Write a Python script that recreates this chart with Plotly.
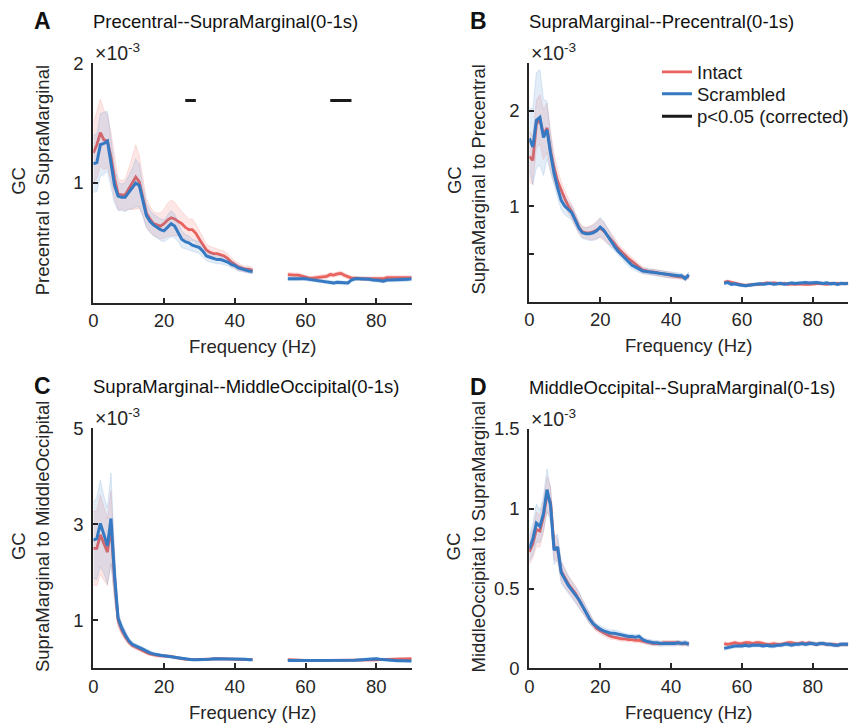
import plotly.graph_objects as go

# ---------------- data (GC values in units of 1e-3) ----------------
freq_low = list(range(0, 46))     # 0..45 Hz
freq_high = list(range(55, 91))   # 55..90 Hz (line-noise band removed)

x_ticks = [0, 20, 40, 60, 80]

# Panel A : Precentral -> SupraMarginal
A_intact_low = [1.25, 1.32, 1.42, 1.36, 1.35, 1.22, 1.04, 0.91, 0.90, 0.90,
                0.95, 1.00, 1.05, 1.01, 0.88, 0.75, 0.70, 0.66, 0.65, 0.64,
                0.66, 0.69, 0.71, 0.70, 0.68, 0.66, 0.63, 0.61, 0.61, 0.58,
                0.53, 0.48, 0.44, 0.42, 0.41, 0.41, 0.40, 0.39, 0.37, 0.34,
                0.32, 0.30, 0.29, 0.28, 0.28, 0.27]
A_scr_low = [1.16, 1.17, 1.32, 1.33, 1.35, 1.17, 0.98, 0.89, 0.88, 0.88,
             0.92, 0.95, 1.00, 0.98, 0.85, 0.73, 0.68, 0.65, 0.63, 0.61,
             0.60, 0.63, 0.66, 0.64, 0.59, 0.53, 0.51, 0.50, 0.48, 0.47,
             0.46, 0.43, 0.39, 0.38, 0.37, 0.36, 0.36, 0.35, 0.34, 0.32,
             0.31, 0.29, 0.28, 0.27, 0.265, 0.26]
A_intact_sem_low = [0.25, 0.28, 0.28, 0.25, 0.22, 0.20, 0.17, 0.13, 0.12, 0.13,
                    0.17, 0.22, 0.27, 0.22, 0.15, 0.12, 0.11, 0.10, 0.10, 0.11,
                    0.12, 0.14, 0.15, 0.14, 0.12, 0.10, 0.10, 0.09, 0.09, 0.08,
                    0.07, 0.06, 0.05, 0.05, 0.05, 0.04, 0.04, 0.04, 0.04, 0.035,
                    0.03, 0.03, 0.025, 0.025, 0.025, 0.025]
A_scr_sem_low = [0.24, 0.24, 0.26, 0.26, 0.25, 0.20, 0.15, 0.12, 0.11, 0.12,
                 0.14, 0.17, 0.20, 0.18, 0.13, 0.10, 0.09, 0.09, 0.09, 0.09,
                 0.09, 0.10, 0.11, 0.10, 0.08, 0.07, 0.06, 0.06, 0.05, 0.05,
                 0.05, 0.05, 0.04, 0.04, 0.04, 0.035, 0.035, 0.03, 0.03, 0.03,
                 0.025, 0.025, 0.02, 0.02, 0.02, 0.02]
A_intact_high = [0.235, 0.23, 0.23, 0.23, 0.22, 0.21, 0.205, 0.205, 0.21, 0.21,
                 0.22, 0.22, 0.235, 0.23, 0.24, 0.245, 0.23, 0.215, 0.205, 0.205,
                 0.20, 0.20, 0.20, 0.20, 0.20, 0.20, 0.205, 0.20, 0.21, 0.21,
                 0.21, 0.21, 0.215, 0.215, 0.21, 0.21]
A_scr_high = [0.20, 0.20, 0.20, 0.20, 0.205, 0.20, 0.195, 0.19, 0.185, 0.18,
              0.175, 0.17, 0.17, 0.165, 0.17, 0.17, 0.165, 0.165, 0.19, 0.20,
              0.20, 0.20, 0.20, 0.195, 0.19, 0.19, 0.185, 0.18, 0.19, 0.19,
              0.19, 0.19, 0.19, 0.19, 0.195, 0.20]
A_intact_sem_high = [0.02, 0.02, 0.018, 0.018, 0.017, 0.016, 0.016, 0.016, 0.017, 0.017,
                     0.018, 0.018, 0.018, 0.018, 0.019, 0.019, 0.018, 0.017, 0.016, 0.016,
                     0.016, 0.016, 0.016, 0.016, 0.016, 0.016, 0.016, 0.016, 0.016, 0.016,
                     0.016, 0.016, 0.016, 0.016, 0.016, 0.016]
A_scr_sem_high = [0.016, 0.016, 0.016, 0.016, 0.016, 0.016, 0.015, 0.015, 0.015, 0.015,
                  0.015, 0.015, 0.015, 0.015, 0.015, 0.015, 0.015, 0.015, 0.015, 0.015,
                  0.015, 0.015, 0.015, 0.015, 0.015, 0.015, 0.015, 0.015, 0.015, 0.015,
                  0.015, 0.015, 0.015, 0.015, 0.015, 0.016]
A_sig_start = [26, 67]
A_sig_end = [29, 73]
A_sig_level = 1.69

# Panel B : SupraMarginal -> Precentral
B_intact_low = [1.52, 1.48, 1.86, 1.91, 1.75, 1.82, 1.58, 1.40, 1.26, 1.16,
                1.08, 1.00, 0.94, 0.86, 0.78, 0.73, 0.72, 0.72, 0.73, 0.75,
                0.77, 0.74, 0.70, 0.65, 0.61, 0.56, 0.52, 0.48, 0.45, 0.42,
                0.39, 0.36, 0.33, 0.32, 0.31, 0.31, 0.30, 0.295, 0.29, 0.28,
                0.27, 0.265, 0.26, 0.255, 0.25, 0.26]
B_scr_low = [1.71, 1.62, 1.90, 1.93, 1.72, 1.80, 1.55, 1.34, 1.19, 1.06,
             1.00, 0.96, 0.93, 0.85, 0.77, 0.72, 0.71, 0.71, 0.72, 0.74,
             0.78, 0.75, 0.69, 0.63, 0.58, 0.53, 0.49, 0.45, 0.41, 0.38,
             0.36, 0.34, 0.32, 0.315, 0.31, 0.30, 0.30, 0.29, 0.285, 0.28,
             0.275, 0.275, 0.27, 0.27, 0.24, 0.28]
B_intact_sem_low = [0.27, 0.25, 0.25, 0.26, 0.26, 0.26, 0.20, 0.15, 0.12, 0.10,
                    0.09, 0.08, 0.08, 0.07, 0.06, 0.06, 0.06, 0.07, 0.08, 0.09,
                    0.10, 0.09, 0.08, 0.07, 0.06, 0.05, 0.05, 0.04, 0.04, 0.04,
                    0.04, 0.035, 0.035, 0.03, 0.03, 0.03, 0.03, 0.03, 0.03, 0.03,
                    0.03, 0.025, 0.025, 0.025, 0.025, 0.025]
B_scr_sem_low = [0.32, 0.40, 0.50, 0.50, 0.40, 0.30, 0.20, 0.13, 0.10, 0.10,
                 0.09, 0.08, 0.07, 0.07, 0.06, 0.06, 0.06, 0.07, 0.08, 0.09,
                 0.10, 0.09, 0.08, 0.07, 0.06, 0.05, 0.045, 0.04, 0.04, 0.04,
                 0.035, 0.035, 0.03, 0.03, 0.03, 0.03, 0.03, 0.03, 0.03, 0.03,
                 0.03, 0.025, 0.025, 0.025, 0.025, 0.03]
B_intact_high = [0.20, 0.21, 0.20, 0.19, 0.18, 0.175, 0.17, 0.175, 0.175, 0.18,
                 0.18, 0.19, 0.195, 0.19, 0.195, 0.19, 0.185, 0.19, 0.18, 0.185,
                 0.18, 0.185, 0.18, 0.18, 0.18, 0.185, 0.19, 0.19, 0.185, 0.18,
                 0.19, 0.185, 0.19, 0.185, 0.19, 0.19]
B_scr_high = [0.19, 0.20, 0.18, 0.185, 0.175, 0.17, 0.165, 0.17, 0.175, 0.18,
              0.185, 0.18, 0.185, 0.19, 0.18, 0.185, 0.19, 0.18, 0.19, 0.195,
              0.19, 0.195, 0.20, 0.20, 0.195, 0.20, 0.20, 0.195, 0.19, 0.195,
              0.185, 0.19, 0.18, 0.19, 0.185, 0.19]
B_intact_sem_high = [0.018, 0.018, 0.017, 0.017, 0.016, 0.016, 0.016, 0.016, 0.016, 0.016,
                     0.016, 0.016, 0.016, 0.016, 0.016, 0.016, 0.016, 0.016, 0.016, 0.016,
                     0.016, 0.016, 0.016, 0.016, 0.016, 0.016, 0.016, 0.016, 0.016, 0.016,
                     0.016, 0.016, 0.016, 0.016, 0.016, 0.016]
B_scr_sem_high = [0.017, 0.017, 0.016, 0.016, 0.016, 0.016, 0.015, 0.015, 0.015, 0.015,
                  0.015, 0.015, 0.015, 0.015, 0.015, 0.015, 0.015, 0.015, 0.015, 0.015,
                  0.015, 0.015, 0.015, 0.015, 0.015, 0.015, 0.015, 0.015, 0.015, 0.015,
                  0.015, 0.015, 0.015, 0.015, 0.015, 0.015]

# Panel C : SupraMarginal -> MiddleOccipital
C_intact_low = [2.50, 2.50, 2.78, 2.60, 2.42, 2.95, 1.85, 1.00, 0.80, 0.66,
                0.55, 0.48, 0.44, 0.40, 0.37, 0.33, 0.30, 0.28, 0.27, 0.26,
                0.26, 0.25, 0.25, 0.23, 0.21, 0.20, 0.19, 0.18, 0.18, 0.18,
                0.18, 0.185, 0.19, 0.19, 0.195, 0.20, 0.20, 0.195, 0.195, 0.19,
                0.19, 0.19, 0.185, 0.18, 0.18, 0.18]
C_scr_low = [2.67, 2.70, 3.02, 2.78, 2.55, 3.12, 1.95, 1.05, 0.85, 0.70,
             0.58, 0.50, 0.47, 0.43, 0.40, 0.36, 0.32, 0.30, 0.28, 0.27,
             0.26, 0.25, 0.24, 0.22, 0.21, 0.20, 0.19, 0.18, 0.18, 0.18,
             0.18, 0.185, 0.19, 0.19, 0.20, 0.20, 0.20, 0.20, 0.20, 0.20,
             0.195, 0.19, 0.19, 0.19, 0.18, 0.18]
C_intact_sem_low = [0.77, 0.78, 0.83, 0.75, 0.70, 0.75, 0.45, 0.15, 0.10, 0.08,
                    0.06, 0.05, 0.05, 0.04, 0.04, 0.04, 0.04, 0.035, 0.035, 0.03,
                    0.03, 0.03, 0.03, 0.03, 0.03, 0.025, 0.025, 0.025, 0.02, 0.02,
                    0.02, 0.02, 0.02, 0.02, 0.02, 0.02, 0.02, 0.02, 0.02, 0.02,
                    0.02, 0.02, 0.02, 0.02, 0.02, 0.02]
C_scr_sem_low = [0.80, 0.85, 0.90, 0.80, 0.80, 0.95, 0.50, 0.15, 0.10, 0.08,
                 0.06, 0.05, 0.05, 0.045, 0.04, 0.04, 0.04, 0.035, 0.035, 0.03,
                 0.03, 0.03, 0.03, 0.03, 0.025, 0.025, 0.025, 0.02, 0.02, 0.02,
                 0.02, 0.02, 0.02, 0.02, 0.02, 0.02, 0.02, 0.02, 0.02, 0.02,
                 0.02, 0.02, 0.02, 0.02, 0.02, 0.02]
C_intact_high = [0.18, 0.18, 0.18, 0.175, 0.17, 0.165, 0.16, 0.16, 0.16, 0.16,
                 0.16, 0.16, 0.165, 0.165, 0.165, 0.17, 0.17, 0.17, 0.17, 0.175,
                 0.17, 0.175, 0.17, 0.17, 0.17, 0.175, 0.18, 0.185, 0.19, 0.19,
                 0.19, 0.195, 0.195, 0.195, 0.20, 0.20]
C_scr_high = [0.16, 0.16, 0.155, 0.155, 0.155, 0.155, 0.155, 0.16, 0.16, 0.16,
              0.16, 0.16, 0.16, 0.16, 0.16, 0.165, 0.165, 0.165, 0.17, 0.17,
              0.175, 0.18, 0.19, 0.195, 0.19, 0.20, 0.19, 0.18, 0.17, 0.165,
              0.16, 0.155, 0.155, 0.15, 0.15, 0.15]
C_intact_sem_high = [0.02, 0.02, 0.02, 0.02, 0.02, 0.02, 0.02, 0.02, 0.02, 0.02,
                     0.02, 0.02, 0.02, 0.02, 0.02, 0.02, 0.02, 0.02, 0.02, 0.02,
                     0.02, 0.02, 0.02, 0.02, 0.02, 0.02, 0.02, 0.02, 0.02, 0.02,
                     0.02, 0.02, 0.02, 0.02, 0.02, 0.02]
C_scr_sem_high = [0.02, 0.02, 0.02, 0.02, 0.02, 0.02, 0.02, 0.02, 0.02, 0.02,
                  0.02, 0.02, 0.02, 0.02, 0.02, 0.02, 0.02, 0.02, 0.02, 0.02,
                  0.025, 0.025, 0.03, 0.03, 0.03, 0.03, 0.025, 0.02, 0.02, 0.02,
                  0.02, 0.02, 0.02, 0.02, 0.02, 0.02]

# Panel D : MiddleOccipital -> SupraMarginal
D_intact_low = [0.73, 0.78, 0.87, 0.86, 0.95, 1.09, 1.04, 0.76, 0.74, 0.61,
                0.57, 0.53, 0.50, 0.47, 0.43, 0.39, 0.35, 0.31, 0.28, 0.25,
                0.235, 0.22, 0.21, 0.20, 0.195, 0.19, 0.185, 0.185, 0.18, 0.18,
                0.175, 0.175, 0.17, 0.165, 0.16, 0.155, 0.155, 0.155, 0.16, 0.16,
                0.16, 0.16, 0.16, 0.155, 0.155, 0.155]
D_scr_low = [0.75, 0.81, 0.91, 0.89, 0.97, 1.12, 1.02, 0.74, 0.76, 0.60,
             0.56, 0.52, 0.49, 0.46, 0.43, 0.39, 0.35, 0.31, 0.28, 0.26,
             0.245, 0.235, 0.225, 0.22, 0.22, 0.215, 0.21, 0.205, 0.20, 0.20,
             0.195, 0.20, 0.18, 0.17, 0.165, 0.16, 0.16, 0.155, 0.155, 0.155,
             0.155, 0.155, 0.16, 0.155, 0.16, 0.15]
D_intact_sem_low = [0.08, 0.09, 0.11, 0.10, 0.10, 0.11, 0.10, 0.08, 0.07, 0.06,
                    0.06, 0.05, 0.05, 0.05, 0.045, 0.04, 0.035, 0.03, 0.025, 0.02,
                    0.02, 0.02, 0.02, 0.02, 0.015, 0.015, 0.015, 0.015, 0.015, 0.015,
                    0.015, 0.015, 0.015, 0.015, 0.015, 0.015, 0.015, 0.015, 0.015, 0.015,
                    0.015, 0.015, 0.015, 0.015, 0.015, 0.015]
D_scr_sem_low = [0.08, 0.10, 0.12, 0.10, 0.11, 0.13, 0.11, 0.09, 0.08, 0.07,
                 0.06, 0.055, 0.05, 0.05, 0.05, 0.04, 0.035, 0.03, 0.025, 0.02,
                 0.02, 0.02, 0.02, 0.02, 0.02, 0.02, 0.015, 0.015, 0.015, 0.015,
                 0.015, 0.015, 0.015, 0.015, 0.015, 0.015, 0.015, 0.015, 0.015, 0.015,
                 0.015, 0.015, 0.015, 0.015, 0.015, 0.015]
D_intact_high = [0.155, 0.15, 0.155, 0.16, 0.155, 0.155, 0.16, 0.16, 0.155, 0.16,
                 0.16, 0.155, 0.15, 0.15, 0.155, 0.15, 0.15, 0.155, 0.16, 0.16,
                 0.155, 0.155, 0.16, 0.155, 0.16, 0.155, 0.15, 0.155, 0.155, 0.15,
                 0.15, 0.15, 0.145, 0.15, 0.15, 0.15]
D_scr_high = [0.125, 0.13, 0.135, 0.14, 0.14, 0.14, 0.145, 0.14, 0.145, 0.145,
              0.145, 0.14, 0.145, 0.14, 0.14, 0.145, 0.145, 0.15, 0.15, 0.145,
              0.15, 0.15, 0.155, 0.15, 0.155, 0.155, 0.15, 0.155, 0.155, 0.15,
              0.15, 0.145, 0.145, 0.15, 0.15, 0.15]
D_intact_sem_high = [0.012, 0.012, 0.012, 0.012, 0.012, 0.012, 0.012, 0.012, 0.012, 0.012,
                     0.012, 0.012, 0.012, 0.012, 0.012, 0.012, 0.012, 0.012, 0.012, 0.012,
                     0.012, 0.012, 0.012, 0.012, 0.012, 0.012, 0.012, 0.012, 0.012, 0.012,
                     0.012, 0.012, 0.012, 0.012, 0.012, 0.012]
D_scr_sem_high = [0.012, 0.012, 0.012, 0.012, 0.012, 0.012, 0.012, 0.012, 0.012, 0.012,
                  0.012, 0.012, 0.012, 0.012, 0.012, 0.012, 0.012, 0.012, 0.012, 0.012,
                  0.012, 0.012, 0.012, 0.012, 0.012, 0.012, 0.012, 0.012, 0.012, 0.012,
                  0.012, 0.012, 0.012, 0.012, 0.012, 0.012]

titles = ["Precentral--SupraMarginal(0-1s)", "SupraMarginal--Precentral(0-1s)",
          "SupraMarginal--MiddleOccipital(0-1s)", "MiddleOccipital--SupraMarginal(0-1s)"]
ylabels = ["Precentral to SupraMarginal", "SupraMarginal to Precentral",
           "SupraMarginal to MiddleOccipital", "MiddleOccipital to SupraMarginal"]
letters = ["A", "B", "C", "D"]
y_ranges = [[0, 2], [0, 2.5], [0, 5], [0, 1.5]]
y_tickvals = [[1, 2], [0.5, 1, 2], [1, 3, 5], [0, 0.5, 1, 1.5]]
y_ticktext = [["1", "2"], [" ", "1", "2"], ["1", "3", "5"], ["0", "0.5", "1", "1.5"]]
legend_names = ["Intact", "Scrambled", "p<0.05 (corrected)"]

# ---------------- styling ----------------
W, H = 853, 724
FONT = "Liberation Sans, Arial, Helvetica, sans-serif"
FS = 18.5
AX = "#262626"
RED = "#E9625E"
BLUE = "#3579C3"
RED_FILL = "rgba(238,110,106,0.17)"
BLUE_FILL = "rgba(70,135,205,0.15)"
RED_EDGE = "rgba(238,110,106,0.22)"
BLUE_EDGE = "rgba(70,135,205,0.22)"


def px_x(p):
    return p / W


def px_y(p):
    return 1 - p / H


# panel geometry in pixels: (left, right, top, bottom)
boxes = [(93.3, 411.6, 63.3, 302.7),
         (529.3, 848.2, 63.0, 301.5),
         (93.3, 411.6, 428.3, 668.3),
         (529.3, 848.2, 429.0, 668.3)]

panels = [
    (A_intact_low, A_scr_low, A_intact_sem_low, A_scr_sem_low,
     A_intact_high, A_scr_high, A_intact_sem_high, A_scr_sem_high),
    (B_intact_low, B_scr_low, B_intact_sem_low, B_scr_sem_low,
     B_intact_high, B_scr_high, B_intact_sem_high, B_scr_sem_high),
    (C_intact_low, C_scr_low, C_intact_sem_low, C_scr_sem_low,
     C_intact_high, C_scr_high, C_intact_sem_high, C_scr_sem_high),
    (D_intact_low, D_scr_low, D_intact_sem_low, D_scr_sem_low,
     D_intact_high, D_scr_high, D_intact_sem_high, D_scr_sem_high),
]

fig = go.Figure()


def band(f, m, s, fill, edge, xa, ya):
    up = [a + b for a, b in zip(m, s)]
    lo = [a - b for a, b in zip(m, s)]
    return go.Scatter(x=list(f) + list(f)[::-1], y=up + lo[::-1], fill="toself",
                      fillcolor=fill, line=dict(color=edge, width=0.8),
                      mode="lines", showlegend=False, hoverinfo="skip",
                      xaxis=xa, yaxis=ya)


for i, p in enumerate(panels):
    xa = "x" if i == 0 else f"x{i+1}"
    ya = "y" if i == 0 else f"y{i+1}"
    il, sl, isl, ssl, ih, sh, ish, ssh = p
    for f, m, s in ((freq_low, il, isl), (freq_high, ih, ish)):
        fig.add_trace(band(f, m, s, RED_FILL, RED_EDGE, xa, ya))
    for k, (f, m) in enumerate(((freq_low, il), (freq_high, ih))):
        fig.add_trace(go.Scatter(x=f, y=m, mode="lines", line=dict(color=RED, width=2.8),
                                 name=legend_names[0], legend="legend",
                                 showlegend=(i == 0 and k == 0), xaxis=xa, yaxis=ya))
    for f, m, s in ((freq_low, sl, ssl), (freq_high, sh, ssh)):
        fig.add_trace(band(f, m, s, BLUE_FILL, BLUE_EDGE, xa, ya))
    for k, (f, m) in enumerate(((freq_low, sl), (freq_high, sh))):
        fig.add_trace(go.Scatter(x=f, y=m, mode="lines", line=dict(color=BLUE, width=3),
                                 name=legend_names[1], legend="legend2",
                                 showlegend=(i == 0 and k == 0), xaxis=xa, yaxis=ya))

# significance bars (panel A)
for k, (s0, s1) in enumerate(zip(A_sig_start, A_sig_end)):
    fig.add_trace(go.Scatter(x=[s0, s1], y=[A_sig_level, A_sig_level], mode="lines",
                             line=dict(color="#1A1A1A", width=3),
                             name=legend_names[2], legend="legend3",
                             showlegend=(k == 0), xaxis="x", yaxis="y"))


def leg(row_center_px):
    return dict(x=px_x(657), y=px_y(row_center_px), xanchor="left", yanchor="middle",
                bgcolor="rgba(0,0,0,0)", font=dict(size=FS, color="#1A1A1A"),
                itemwidth=30)


layout = dict(width=W, height=H, margin=dict(l=0, r=0, t=0, b=0, autoexpand=False),
              paper_bgcolor="white", plot_bgcolor="white",
              font=dict(family=FONT, size=FS, color=AX),
              showlegend=True,
              legend=leg(72.3), legend2=leg(94.3), legend3=leg(116.7),
              annotations=[])

for i, (l, r, t, b) in enumerate(boxes):
    sx = "" if i == 0 else str(i + 1)
    layout["xaxis" + sx] = dict(domain=[px_x(l), px_x(r)], range=[0, 90],
                                anchor="y" + sx, tickvals=x_ticks, ticks="inside",
                                ticklen=5, tickwidth=1.5, tickcolor=AX,
                                showline=True, linecolor=AX, linewidth=2,
                                showgrid=False, zeroline=False,
                                tickfont=dict(size=FS, color=AX))
    layout["yaxis" + sx] = dict(domain=[px_y(b), px_y(t)], range=y_ranges[i],
                                anchor="x" + sx, tickvals=y_tickvals[i],
                                ticktext=y_ticktext[i], ticks="inside",
                                ticklen=5, tickwidth=1.5, tickcolor=AX,
                                showline=True, linecolor=AX, linewidth=2,
                                showgrid=False, zeroline=False, ticklabelstandoff=4,
                                tickfont=dict(size=FS, color=AX))
    cx = (l + r) / 2
    ann = layout["annotations"]
    ann.append(dict(text="Frequency (Hz)", x=px_x(cx), y=px_y(b + 44), xref="paper",
                    yref="paper", showarrow=False, xanchor="center", yanchor="middle",
                    font=dict(size=FS, color=AX)))
    ycen = (t + b) / 2 - (3 if i < 2 else 11.5)
    ann.append(dict(text="GC", x=px_x(l - 75.5), y=px_y((t + b) / 2 - 2), xref="paper",
                    yref="paper", showarrow=False, textangle=-90, xanchor="center",
                    yanchor="middle", font=dict(size=FS, color=AX)))
    ann.append(dict(text=ylabels[i], x=px_x(l - 51), y=px_y(ycen), xref="paper",
                    yref="paper", showarrow=False, textangle=-90, xanchor="center",
                    yanchor="middle", font=dict(size=FS, color=AX)))
    ann.append(dict(text="×10<sup>-3</sup>", x=px_x(l - 0.5), y=px_y(t - 11), xref="paper",
                    yref="paper", showarrow=False, xanchor="left", yanchor="middle",
                    font=dict(size=19.5, color=AX)))
    ann.append(dict(text=titles[i], x=px_x(l - 2.5), y=px_y(t - 42), xref="paper",
                    yref="paper", showarrow=False, xanchor="left", yanchor="middle",
                    font=dict(size=FS, color="#111111")))
    ann.append(dict(text="<b>" + letters[i] + "</b>", x=px_x(l - 61), y=px_y(t - 42),
                    xref="paper", yref="paper", showarrow=False, xanchor="left",
                    yanchor="middle", font=dict(size=23, color="#111111")))

fig.update_layout(**layout)
fig.write_html("out.html", config={"displayModeBar": False},
               post_script="document.body.style.margin='0px';document.body.style.overflow='hidden';")
